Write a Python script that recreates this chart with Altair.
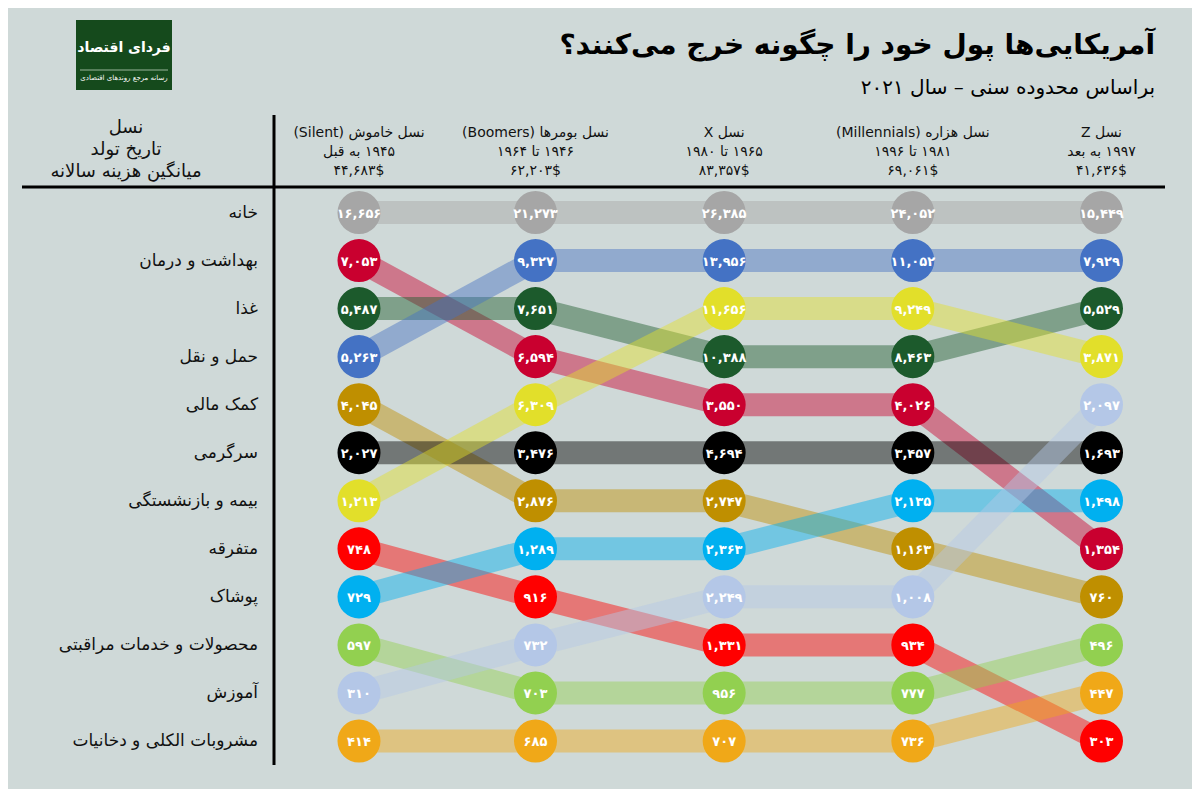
import altair as alt
import pandas as pd

FONT = "DejaVu Sans"
BG = "#cfd9d8"

categories = ["خانه", "بهداشت و درمان", "غذا", "حمل و نقل", "کمک مالی", "سرگرمی",
              "بیمه و بازنشستگی", "متفرقه", "پوشاک", "محصولات و خدمات مراقبتی",
              "آموزش", "مشروبات الکلی و دخانیات"]
colors = ["#a6a6a6", "#c9002f", "#1c5a2c", "#4472c4", "#bf8f00", "#000000",
          "#e2df2a", "#ff0000", "#00b0f0", "#92d050", "#b4c7e7", "#f0a818"]

gen_line1 = ["نسل خاموش (Silent)", "نسل بومرها (Boomers)", "نسل X",
             "نسل هزاره (Millennials)", "نسل Z"]
gen_line2 = ["۱۹۴۵ به قبل", "۱۹۴۶ تا ۱۹۶۴", "۱۹۶۵ تا ۱۹۸۰", "۱۹۸۱ تا ۱۹۹۶", "۱۹۹۷ به بعد"]
gen_avg = [44683, 62203, 83357, 69061, 41636]

# values per generation, in the category order above
silent = [16656, 7053, 5487, 5263, 4045, 2027, 1213, 748, 729, 597, 310, 414]
boomers = [21273, 6594, 7651, 9327, 2876, 3476, 6309, 916, 1289, 703, 732, 685]
genx = [26385, 3550, 10388, 13956, 2747, 4694, 11656, 1331, 2363, 956, 2249, 707]
millennials = [24052, 4026, 8463, 11052, 1163, 3457, 9249, 934, 2135, 777, 1008, 736]
genz = [15449, 1354, 5529, 7929, 760, 1693, 3871, 303, 1498, 496, 2097, 447]

# row position (rank) per generation, in the category order above
silent_rank = [1, 2, 3, 4, 5, 6, 7, 8, 9, 10, 11, 12]
boomers_rank = [1, 4, 3, 2, 7, 6, 5, 9, 8, 11, 10, 12]
genx_rank = [1, 5, 4, 2, 7, 6, 3, 10, 8, 11, 9, 12]
millennials_rank = [1, 5, 4, 2, 8, 6, 3, 10, 7, 11, 9, 12]
genz_rank = [1, 8, 3, 2, 9, 6, 4, 12, 7, 10, 5, 11]

title = "آمریکایی‌ها پول خود را چگونه خرج می‌کنند؟"
subtitle = "براساس محدوده سنی – سال ۲۰۲۱"
left_header = ["نسل", "تاریخ تولد", "میانگین هزینه سالانه"]

FA = str.maketrans("0123456789", "۰۱۲۳۴۵۶۷۸۹")


def fa(n):
    return f"{n:,}".translate(FA)


RLE, PDF = "\u202b", "\u202c"


def rtl(s):
    return RLE + s + PDF


values_all = [silent, boomers, genx, millennials, genz]
ranks_all = [silent_rank, boomers_rank, genx_rank, millennials_rank, genz_rank]

rows = []
for g in range(5):
    for i, c in enumerate(categories):
        rows.append({"gen": g, "category": c, "rank": ranks_all[g][i],
                     "value": values_all[g][i], "label": fa(values_all[g][i])})
df = pd.DataFrame(rows)

hdr = pd.DataFrame({"gen": list(range(5)),
                    "l1": [rtl(s) for s in gen_line1],
                    "l2": [rtl(s) for s in gen_line2],
                    "l3": [fa(v) + "$" for v in gen_avg]})

rowlab = pd.DataFrame({"category": categories, "rank": silent_rank})

xscale = alt.Scale(domain=[0, 1, 4], range=[351, 527.5, 1093.5])
yscale = alt.Scale(domain=[1, 12], range=[204.5, 733])
X = alt.X("gen:Q", scale=xscale, axis=None)
Y = alt.Y("rank:Q", scale=yscale, axis=None)
C = alt.Color("category:N", scale=alt.Scale(domain=categories, range=colors), legend=None)

base = alt.Chart(df)
bands = base.mark_line(strokeWidth=23, opacity=0.45, strokeCap="butt", strokeJoin="round").encode(
    x=X, y=Y, color=C, detail="category:N", order="gen:Q")
dots = base.mark_circle(size=1850, opacity=1).encode(x=X, y=Y, color=C)
nums = base.mark_text(font=FONT, fontSize=13, fontWeight="bold", color="white",
                      baseline="middle", align="center", dy=1).encode(x=X, y=Y, text="label:N")

hbase = alt.Chart(hdr)
h1 = hbase.mark_text(font=FONT, fontSize=14, baseline="middle", align="center", color="#111").encode(
    x=X, y=alt.value(125), text="l1:N")
h2 = hbase.mark_text(font=FONT, fontSize=14, baseline="middle", align="center", color="#111").encode(
    x=X, y=alt.value(144), text="l2:N")
h3 = hbase.mark_text(font=FONT, fontSize=14, baseline="middle", align="center", color="#111").encode(
    x=X, y=alt.value(163), text="l3:N")

rl = alt.Chart(rowlab).mark_text(font=FONT, fontSize=17, baseline="middle", align="right",
                                 color="#111").encode(x=alt.value(250), y=Y, text="category:N")

lh = pd.DataFrame({"t": left_header, "yy": [120, 142, 164]})
lhead = alt.Chart(lh).mark_text(font=FONT, fontSize=18, baseline="middle", align="center",
                                color="#111").encode(x=alt.value(118), y=alt.Y("yy:Q", scale=None), text="t:N")

one = pd.DataFrame({"a": [0]})
vrule = alt.Chart(one).mark_rule(strokeWidth=3, color="black").encode(
    x=alt.value(266), y=alt.value(107), y2=alt.value(757))
hrule = alt.Chart(one).mark_rule(strokeWidth=3, color="black").encode(
    x=alt.value(14), x2=alt.value(1157), y=alt.value(179))

ttl = alt.Chart(one).mark_text(font=FONT, fontSize=28, fontWeight="bold", align="right",
                               baseline="middle", color="black").encode(
    x=alt.value(1147), y=alt.value(38), text=alt.value(rtl(title)))
sub = alt.Chart(one).mark_text(font=FONT, fontSize=20, align="right",
                               baseline="middle", color="black").encode(
    x=alt.value(1147), y=alt.value(80), text=alt.value(rtl(subtitle)))

logo = alt.Chart(one).mark_rect(color="#154a1c").encode(
    x=alt.value(68), x2=alt.value(164), y=alt.value(12), y2=alt.value(82))
logo_t = alt.Chart(one).mark_text(font=FONT, fontSize=14, fontWeight="bold", color="white",
                                  align="center", baseline="middle").encode(
    x=alt.value(116), y=alt.value(40), text=alt.value("فردای اقتصاد"))
logo_l = alt.Chart(one).mark_rule(color="#9bb59b", strokeWidth=1).encode(
    x=alt.value(72), x2=alt.value(160), y=alt.value(62))
logo_s = alt.Chart(one).mark_text(font=FONT, fontSize=7, color="white",
                                  align="center", baseline="middle").encode(
    x=alt.value(116), y=alt.value(70), text=alt.value("رسانه مرجع روندهای اقتصادی"))

chart = alt.layer(
    logo, logo_t, logo_l, logo_s, ttl, sub, lhead, h1, h2, h3, vrule, hrule, rl,
    bands, dots, nums
).properties(width=1184, height=781, autosize=alt.AutoSizeParams(type="none"), padding=0,
             background=BG).configure_view(stroke=None)

chart.save("out.html", embed_options={"renderer": "svg", "actions": False})
